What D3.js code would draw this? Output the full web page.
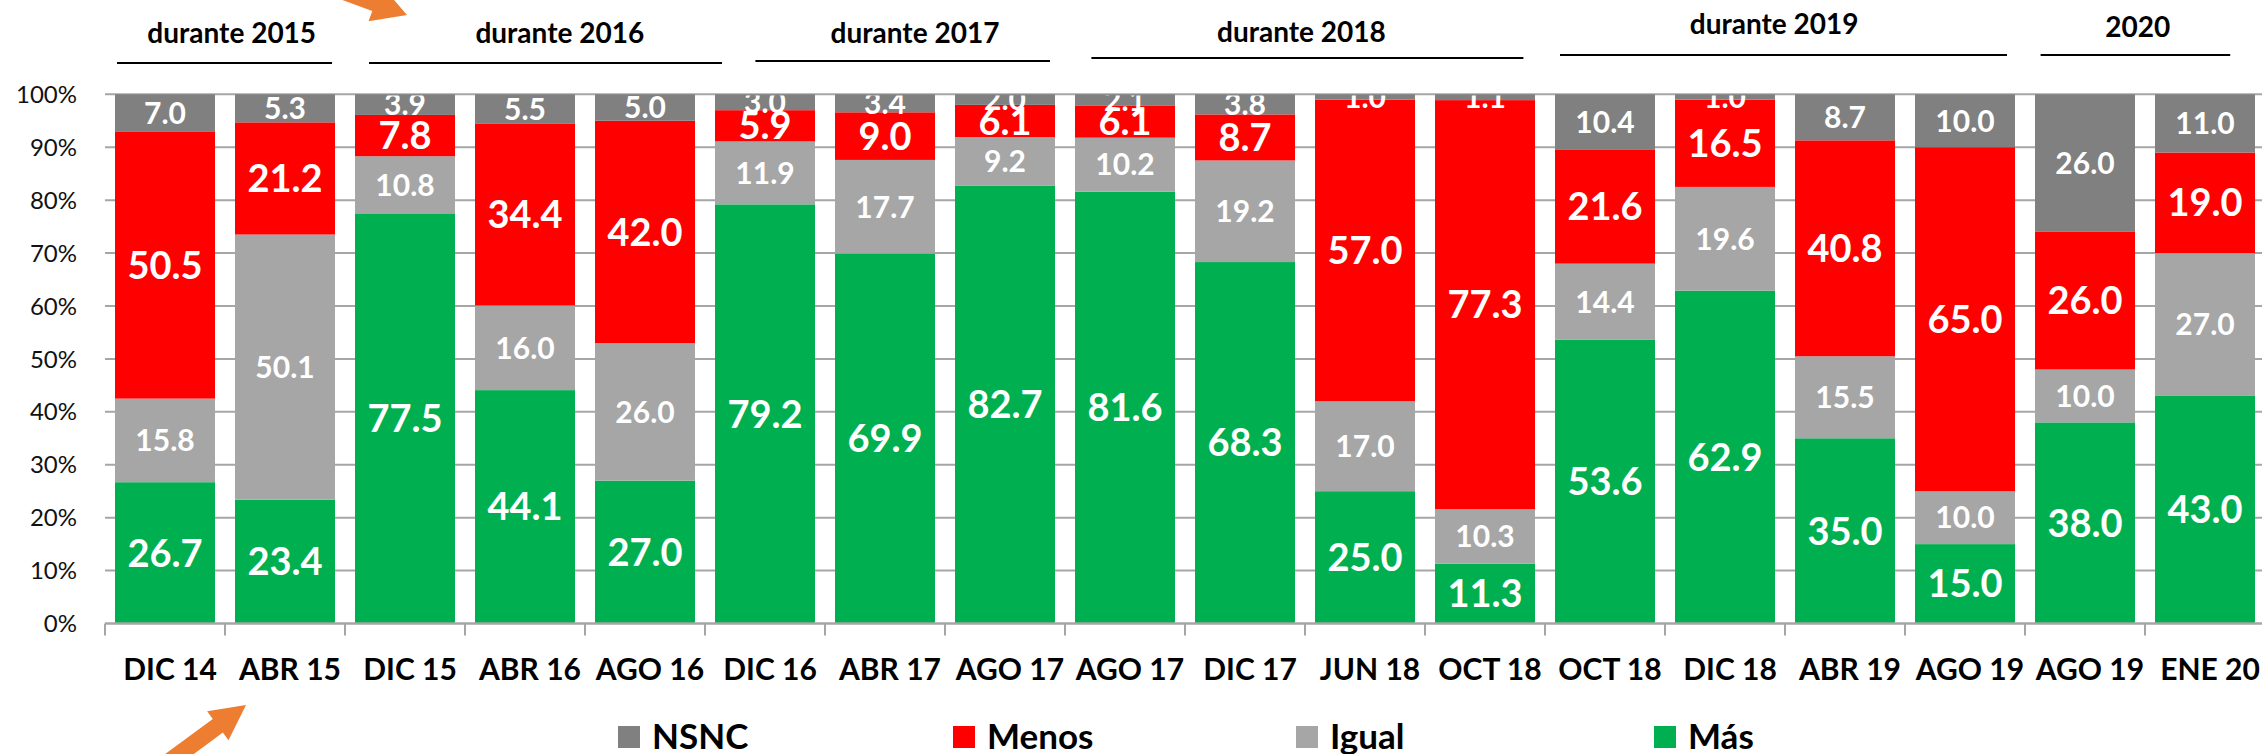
<!DOCTYPE html>
<html>
<head>
<meta charset="utf-8">
<script src="https://cdn.jsdelivr.net/npm/d3@7"></script>
<style>
  body { margin: 0; background: #fff; }
  svg { display: block; font-family: Lato, "Open Sans", sans-serif; }
</style>
</head>
<body>
<svg id="chart1"></svg>
<script>
// survey dates (some repeat, so bars are keyed by index)
var categories = ["DIC 14", "ABR 15", "DIC 15", "ABR 16", "AGO 16", "DIC 16", "ABR 17", "AGO 17", "AGO 17",
                  "DIC 17", "JUN 18", "OCT 18", "OCT 18", "DIC 18", "ABR 19", "AGO 19", "AGO 19", "ENE 20"];

// series values, stacked bottom to top
var mas   = [26.7, 23.4, 77.5, 44.1, 27.0, 79.2, 69.9, 82.7, 81.6, 68.3, 25.0, 11.3, 53.6, 62.9, 35.0, 15.0, 38.0, 43.0];
var igual = [15.8, 50.1, 10.8, 16.0, 26.0, 11.9, 17.7, 9.2, 10.2, 19.2, 17.0, 10.3, 14.4, 19.6, 15.5, 10.0, 10.0, 27.0];
var menos = [50.5, 21.2, 7.8, 34.4, 42.0, 5.9, 9.0, 6.1, 6.1, 8.7, 57.0, 77.3, 21.6, 16.5, 40.8, 65.0, 26.0, 19.0];
var nsnc  = [7.0, 5.3, 3.9, 5.5, 5.0, 3.0, 3.4, 2.0, 2.1, 3.8, 1.0, 1.1, 10.4, 1.0, 8.7, 10.0, 26.0, 11.0];

var seriesNames = ["Más", "Igual", "Menos", "NSNC"];
var legendOrder = ["NSNC", "Menos", "Igual", "Más"];
var yTicks = [0, 10, 20, 30, 40, 50, 60, 70, 80, 90, 100];

// period headers above the bars
var groupLabels = ["durante 2015", "durante 2016", "durante 2017", "durante 2018", "durante 2019", "2020"];

var colors = {"Más": "#00B050", "Igual": "#A6A6A6", "Menos": "#FF0000", "NSNC": "#808080"};

var W = 2262, H = 754;
var svg = d3.select("#chart1").attr("width", W).attr("height", H);

// Add X scale (one band per survey)
var x = d3.scaleBand()
  .domain(d3.range(categories.length))
  .range([105, 2265])
  .paddingInner(1 / 6)
  .paddingOuter(1 / 12);

// Add Y scale
var y = d3.scaleLinear()
  .domain([0, 100])
  .range([623.5, 94.3]);

// gridlines
svg.append("g")
  .selectAll("line")
  .data(yTicks.slice(1))
  .enter()
  .append("line")
    .attr("x1", 105).attr("x2", W)
    .attr("y1", function(d) { return y(d); })
    .attr("y2", function(d) { return y(d); })
    .attr("stroke", "#A6A6A6")
    .attr("stroke-width", 2);

// y labels
svg.append("g")
  .selectAll("text")
  .data(yTicks)
  .enter()
  .append("text")
    .attr("x", 77)
    .attr("y", function(d) { return y(d); })
    .attr("dy", "0.36em")
    .attr("text-anchor", "end")
    .style("font-size", "24px")
    .style("fill", "#111")
    .text(function(d) { return d + "%"; });

// build stack table from the arrays
var table = categories.map(function(c, i) {
  return {"i": i, "Más": mas[i], "Igual": igual[i], "Menos": menos[i], "NSNC": nsnc[i]};
});
var stacked = d3.stack().keys(seriesNames)(table);

// Add bars
svg.append("g")
  .selectAll("g")
  .data(stacked)
  .enter()
  .append("g")
    .attr("fill", function(s) { return colors[s.key]; })
  .selectAll("rect")
  .data(function(s) { return s; })
  .enter()
  .append("rect")
    .attr("x", function(d) { return x(d.data.i); })
    .attr("y", function(d) { return y(d[1]); })
    .attr("width", x.bandwidth())
    .attr("height", function(d) { return y(d[0]) - y(d[1]); });

// X axis line + ticks on band edges
var axis = svg.append("g");
axis.append("line")
  .attr("x1", 105).attr("x2", W)
  .attr("y1", y(0)).attr("y2", y(0))
  .attr("stroke", "#A6A6A6")
  .attr("stroke-width", 2.5);
axis.selectAll(".tick")
  .data(d3.range(categories.length))
  .enter()
  .append("line")
    .attr("class", "tick")
    .attr("x1", function(i) { return x(i) - x.step() * x.paddingOuter(); })
    .attr("x2", function(i) { return x(i) - x.step() * x.paddingOuter(); })
    .attr("y1", y(0)).attr("y2", y(0) + 12)
    .attr("stroke", "#A6A6A6")
    .attr("stroke-width", 2);

axis.selectAll(".lbl")
  .data(categories)
  .enter()
  .append("text")
    .attr("class", "lbl")
    .attr("x", function(d, i) { return x(i) + x.bandwidth() / 2 + 5; })
    .attr("y", 680)
    .attr("text-anchor", "middle")
    .style("font-size", "30px")
    .style("font-weight", "bold")
    .text(function(d) { return d; });

// value labels, clipped at the top of the plot like the original
svg.append("clipPath").attr("id", "plotclip")
  .append("rect").attr("x", 0).attr("y", 95.5).attr("width", W).attr("height", 540);

svg.append("g")
  .attr("clip-path", "url(#plotclip)")
  .selectAll("g")
  .data(stacked)
  .enter()
  .append("g")
  .selectAll("text")
  .data(function(s) { return s.map(function(d) { d.key = s.key; return d; }); })
  .enter()
  .append("text")
    .attr("x", function(d) { return x(d.data.i) + x.bandwidth() / 2; })
    .attr("y", function(d) { return (y(d[0]) + y(d[1])) / 2; })
    .attr("dy", "0.36em")
    .attr("text-anchor", "middle")
    .style("fill", "#fff")
    .style("font-weight", "bold")
    .style("font-size", function(d) { return (d.key == "Más" || d.key == "Menos") ? "38px" : "30px"; })
    .text(function(d) { return (d[1] - d[0]).toFixed(1); });

// period headers (hand placed in the original, so positions are in band units)
var headerPos = [
  {from: 0.1,   to: 1.892,  mid: 1.056,  ty: 43, ly: 63},
  {from: 2.2,   to: 5.142,  mid: 3.79,   ty: 43, ly: 63},
  {from: 5.42,  to: 7.875,  mid: 6.75,   ty: 43, ly: 61},
  {from: 8.22,  to: 11.82,  mid: 9.97,   ty: 42, ly: 58},
  {from: 12.125,to: 15.85,  mid: 13.91,  ty: 34, ly: 55},
  {from: 16.13, to: 17.71,  mid: 16.94,  ty: 37, ly: 55}
];
var bx = function(u) { return 105 + u * x.step(); };

var headers = svg.append("g")
  .selectAll("g")
  .data(groupLabels)
  .enter()
  .append("g");
headers.append("text")
  .attr("x", function(d, i) { return bx(headerPos[i].mid); })
  .attr("y", function(d, i) { return headerPos[i].ty; })
  .attr("text-anchor", "middle")
  .style("font-size", "28px")
  .style("font-weight", "bold")
  .text(function(d) { return d; });
headers.append("line")
  .attr("x1", function(d, i) { return bx(headerPos[i].from); })
  .attr("x2", function(d, i) { return bx(headerPos[i].to); })
  .attr("y1", function(d, i) { return headerPos[i].ly; })
  .attr("y2", function(d, i) { return headerPos[i].ly; })
  .attr("stroke", "#000")
  .attr("stroke-width", 2);

// Legend
var legendX = [618, 953, 1296, 1654];
var legend = svg.append("g")
  .selectAll("g")
  .data(legendOrder)
  .enter()
  .append("g")
    .attr("transform", function(d, i) { return "translate(" + legendX[i] + ",726)"; });
legend.append("rect")
  .attr("width", 22).attr("height", 22)
  .attr("fill", function(d) { return colors[d]; });
legend.append("text")
  .attr("x", 34)
  .attr("y", 22.5)
  .style("font-size", "35px")
  .style("font-weight", "bold")
  .text(function(d) { return d; });

// orange arrows (decoration in the original slide)
function arrow(tx, ty, deg, headLen, headW, shaftW, shaftLen) {
  var a = deg * Math.PI / 180,
      ux = Math.cos(a), uy = Math.sin(a),
      nx = -uy, ny = ux,
      bx0 = tx - ux * headLen, by0 = ty - uy * headLen,
      ex = bx0 - ux * shaftLen, ey = by0 - uy * shaftLen;
  var pts = [
    [tx, ty],
    [bx0 + nx * headW / 2, by0 + ny * headW / 2],
    [bx0 + nx * shaftW / 2, by0 + ny * shaftW / 2],
    [ex + nx * shaftW / 2, ey + ny * shaftW / 2],
    [ex - nx * shaftW / 2, ey - ny * shaftW / 2],
    [bx0 - nx * shaftW / 2, by0 - ny * shaftW / 2],
    [bx0 - nx * headW / 2, by0 - ny * headW / 2]
  ];
  svg.append("polygon")
    .attr("points", pts.map(function(p) { return p.join(","); }).join(" "))
    .attr("fill", "#ED7D31");
}
arrow(407, 15, 20, 34, 38, 16, 120);
arrow(246, 705, -36.4, 35, 36, 17, 120);
</script>
</body>
</html>
